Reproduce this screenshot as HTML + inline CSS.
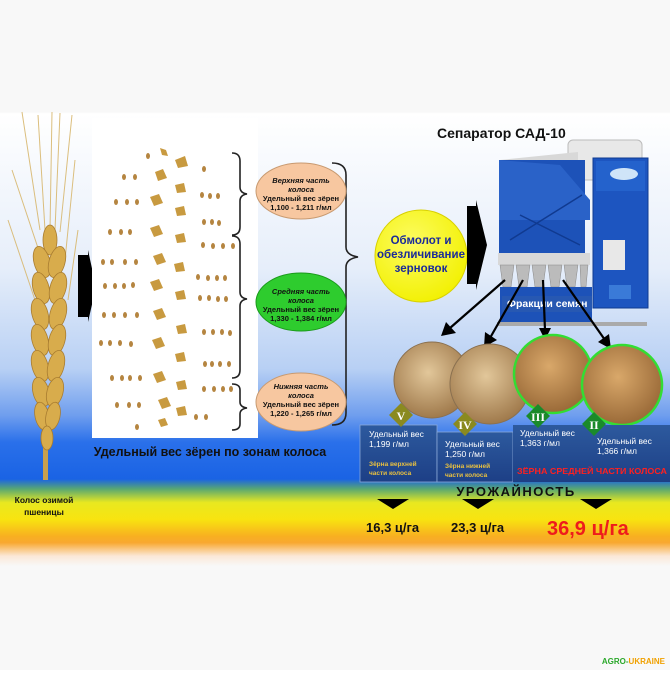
<!DOCTYPE html>
<html><head><meta charset="utf-8"><style>
html,body{margin:0;padding:0}
body{width:670px;height:670px;overflow:hidden;font-family:"Liberation Sans",sans-serif;}
</style></head><body>
<svg width="670" height="670" viewBox="0 0 670 670" xmlns="http://www.w3.org/2000/svg" font-family="Liberation Sans, sans-serif">
<defs>
<linearGradient id="bg" x1="0" y1="0" x2="0" y2="1">
<stop offset="0" stop-color="#f8f8f8"/>
<stop offset="0.167" stop-color="#f8f8f8"/>
<stop offset="0.17" stop-color="#ffffff"/>
<stop offset="0.4" stop-color="#e6eefa"/>
<stop offset="0.55" stop-color="#b8d0f4"/>
<stop offset="0.62" stop-color="#6f9eee"/>
<stop offset="0.66" stop-color="#2a70ea"/>
<stop offset="0.715" stop-color="#1a63e4"/>
<stop offset="0.73" stop-color="#5aa870"/>
<stop offset="0.75" stop-color="#e8e820"/>
<stop offset="0.775" stop-color="#f8e410"/>
<stop offset="0.8" stop-color="#f8b020"/>
<stop offset="0.81" stop-color="#f8a830"/>
<stop offset="0.83" stop-color="#fbe8d8"/>
<stop offset="0.845" stop-color="#f8f8f8"/>
<stop offset="1" stop-color="#f8f8f8"/>
</linearGradient>
<radialGradient id="g1" cx="0.45" cy="0.4" r="0.6"><stop offset="0" stop-color="#e2c79a"/><stop offset="1" stop-color="#a07a4c"/></radialGradient>
<radialGradient id="g2" cx="0.45" cy="0.4" r="0.6"><stop offset="0" stop-color="#d9a86a"/><stop offset="1" stop-color="#9a6a38"/></radialGradient>
<linearGradient id="box" x1="0" y1="0" x2="0" y2="1"><stop offset="0" stop-color="#2d5a9e"/><stop offset="1" stop-color="#1d3f86"/></linearGradient>
<radialGradient id="yl" cx="0.4" cy="0.35" r="0.7"><stop offset="0" stop-color="#fcfc60"/><stop offset="1" stop-color="#f2f000"/></radialGradient>
</defs>
<rect width="670" height="670" fill="url(#bg)"/>

<!-- wheat ear -->
<g stroke="#d8b870" stroke-width="1" fill="none" opacity="0.9">
<path d="M40 230 L22 112"/><path d="M45 230 L38 115"/><path d="M50 230 L52 112"/><path d="M55 230 L60 113"/><path d="M60 232 L72 115"/><path d="M42 260 L12 170"/><path d="M65 260 L75 160"/><path d="M35 300 L8 220"/><path d="M68 300 L78 230"/>
</g>
<rect x="43" y="440" width="5" height="40" fill="#c8a050"/>
<g fill="#d8ac4c" stroke="#a87c30" stroke-width="0.8">
<ellipse cx="50" cy="240" rx="7" ry="15"/>
<ellipse cx="42" cy="262" rx="8" ry="16" transform="rotate(-15 42 262)"/><ellipse cx="57" cy="262" rx="8" ry="16" transform="rotate(15 57 262)"/>
<ellipse cx="41" cy="288" rx="8" ry="16" transform="rotate(-15 41 288)"/><ellipse cx="58" cy="288" rx="8" ry="16" transform="rotate(15 58 288)"/>
<ellipse cx="40" cy="314" rx="8" ry="16" transform="rotate(-15 40 314)"/><ellipse cx="58" cy="314" rx="8" ry="16" transform="rotate(15 58 314)"/>
<ellipse cx="40" cy="340" rx="8" ry="16" transform="rotate(-15 40 340)"/><ellipse cx="57" cy="340" rx="8" ry="16" transform="rotate(15 57 340)"/>
<ellipse cx="40" cy="366" rx="8" ry="16" transform="rotate(-15 40 366)"/><ellipse cx="56" cy="366" rx="8" ry="16" transform="rotate(15 56 366)"/>
<ellipse cx="41" cy="392" rx="8" ry="15" transform="rotate(-15 41 392)"/><ellipse cx="55" cy="392" rx="8" ry="15" transform="rotate(15 55 392)"/>
<ellipse cx="42" cy="416" rx="7" ry="14" transform="rotate(-12 42 416)"/><ellipse cx="53" cy="416" rx="7" ry="14" transform="rotate(12 53 416)"/>
<ellipse cx="47" cy="438" rx="6" ry="12"/>
</g>

<!-- left arrow -->
<path d="M78 255 L88 255 L88 250 L96 287 L88 322 L88 317 L78 317 Z" fill="#000"/>

<!-- grain panel -->
<rect x="92" y="118" width="166" height="320" fill="#ffffff"/>
<g fill="#b58540">
<ellipse cx="148" cy="156" rx="2" ry="3"/><ellipse cx="204" cy="169" rx="2" ry="3"/>
<ellipse cx="124" cy="177" rx="2" ry="3"/><ellipse cx="135" cy="177" rx="2" ry="3"/>
<ellipse cx="116" cy="202" rx="2" ry="3"/><ellipse cx="127" cy="202" rx="2" ry="3"/><ellipse cx="137" cy="202" rx="2" ry="3"/>
<ellipse cx="202" cy="195" rx="2" ry="3"/><ellipse cx="210" cy="196" rx="2" ry="3"/><ellipse cx="218" cy="196" rx="2" ry="3"/>
<ellipse cx="110" cy="232" rx="2" ry="3"/><ellipse cx="121" cy="232" rx="2" ry="3"/><ellipse cx="130" cy="232" rx="2" ry="3"/>
<ellipse cx="204" cy="222" rx="2" ry="3"/><ellipse cx="212" cy="222" rx="2" ry="3"/><ellipse cx="219" cy="223" rx="2" ry="3"/>
<ellipse cx="203" cy="245" rx="2" ry="3"/><ellipse cx="213" cy="246" rx="2" ry="3"/><ellipse cx="223" cy="246" rx="2" ry="3"/><ellipse cx="233" cy="246" rx="2" ry="3"/>
<ellipse cx="103" cy="262" rx="2" ry="3"/><ellipse cx="112" cy="262" rx="2" ry="3"/><ellipse cx="125" cy="262" rx="2" ry="3"/><ellipse cx="136" cy="262" rx="2" ry="3"/>
<ellipse cx="198" cy="277" rx="2" ry="3"/><ellipse cx="208" cy="278" rx="2" ry="3"/><ellipse cx="217" cy="278" rx="2" ry="3"/><ellipse cx="225" cy="278" rx="2" ry="3"/>
<ellipse cx="105" cy="286" rx="2" ry="3"/><ellipse cx="115" cy="286" rx="2" ry="3"/><ellipse cx="124" cy="286" rx="2" ry="3"/><ellipse cx="133" cy="285" rx="2" ry="3"/>
<ellipse cx="200" cy="298" rx="2" ry="3"/><ellipse cx="209" cy="298" rx="2" ry="3"/><ellipse cx="218" cy="299" rx="2" ry="3"/><ellipse cx="226" cy="299" rx="2" ry="3"/>
<ellipse cx="104" cy="315" rx="2" ry="3"/><ellipse cx="114" cy="315" rx="2" ry="3"/><ellipse cx="125" cy="315" rx="2" ry="3"/><ellipse cx="137" cy="315" rx="2" ry="3"/>
<ellipse cx="204" cy="332" rx="2" ry="3"/><ellipse cx="213" cy="332" rx="2" ry="3"/><ellipse cx="222" cy="332" rx="2" ry="3"/><ellipse cx="230" cy="333" rx="2" ry="3"/>
<ellipse cx="101" cy="343" rx="2" ry="3"/><ellipse cx="110" cy="343" rx="2" ry="3"/><ellipse cx="120" cy="343" rx="2" ry="3"/><ellipse cx="131" cy="344" rx="2" ry="3"/>
<ellipse cx="205" cy="364" rx="2" ry="3"/><ellipse cx="212" cy="364" rx="2" ry="3"/><ellipse cx="220" cy="364" rx="2" ry="3"/><ellipse cx="229" cy="364" rx="2" ry="3"/>
<ellipse cx="112" cy="378" rx="2" ry="3"/><ellipse cx="122" cy="378" rx="2" ry="3"/><ellipse cx="130" cy="378" rx="2" ry="3"/><ellipse cx="140" cy="378" rx="2" ry="3"/>
<ellipse cx="204" cy="389" rx="2" ry="3"/><ellipse cx="214" cy="389" rx="2" ry="3"/><ellipse cx="223" cy="389" rx="2" ry="3"/><ellipse cx="231" cy="389" rx="2" ry="3"/>
<ellipse cx="117" cy="405" rx="2" ry="3"/><ellipse cx="129" cy="405" rx="2" ry="3"/><ellipse cx="139" cy="405" rx="2" ry="3"/>
<ellipse cx="196" cy="417" rx="2" ry="3"/><ellipse cx="206" cy="417" rx="2" ry="3"/>
<ellipse cx="137" cy="427" rx="2" ry="3"/>
</g>
<g fill="#c89a40">
<path d="M160 148 l6 2 l2 6 l-6 -1 z"/><path d="M175 160 l10 -4 l3 10 l-10 2 z"/>
<path d="M155 172 l8 -3 l4 9 l-9 3 z"/><path d="M175 185 l9 -2 l2 9 l-9 1 z"/>
<path d="M150 197 l9 -3 l4 9 l-9 3 z"/><path d="M175 208 l9 -2 l2 9 l-9 1 z"/>
<path d="M150 228 l9 -3 l4 9 l-9 3 z"/><path d="M175 235 l9 -2 l2 9 l-9 1 z"/>
<path d="M153 256 l9 -3 l4 9 l-9 3 z"/><path d="M174 264 l9 -2 l2 9 l-9 1 z"/>
<path d="M150 282 l9 -3 l4 9 l-9 3 z"/><path d="M175 292 l9 -2 l2 9 l-9 1 z"/>
<path d="M153 311 l9 -3 l4 9 l-9 3 z"/><path d="M176 326 l9 -2 l2 9 l-9 1 z"/>
<path d="M152 340 l9 -3 l4 9 l-9 3 z"/><path d="M175 354 l9 -2 l2 9 l-9 1 z"/>
<path d="M153 374 l9 -3 l4 9 l-9 3 z"/><path d="M176 382 l9 -2 l2 9 l-9 1 z"/>
<path d="M158 400 l9 -3 l4 9 l-9 3 z"/><path d="M176 408 l9 -2 l2 9 l-9 1 z"/>
<path d="M158 420 l7 -2 l3 7 l-7 2 z"/>
</g>

<!-- braces -->
<g fill="none" stroke="#222" stroke-width="1.6">
<path d="M232 153 q8 0 8 8 v26 q0 6 7 7 q-7 1 -7 7 v26 q0 8 -8 8"/>
<path d="M232 236 q8 0 8 8 v48 q0 6 7 7 q-7 1 -7 7 v64 q0 8 -8 8"/>
<path d="M232 384 q8 0 8 6 v12 q0 5 7 6 q-7 1 -7 6 v10 q0 6 -8 6"/>
<path d="M332 163 q14 0 14 12 v72 q0 8 12 10 q-12 2 -12 10 v146 q0 12 -14 12"/>
</g>

<!-- ellipses -->
<g stroke="#c89a70" stroke-width="1">
<ellipse cx="301" cy="191" rx="45" ry="28" fill="#f7c7a0"/>
<ellipse cx="301" cy="302" rx="45" ry="29" fill="#2ecc2e" stroke="#1a9a1a"/>
<ellipse cx="301" cy="402" rx="45" ry="29" fill="#f7c7a0"/>
</g>
<g font-size="7.5" font-weight="bold" text-anchor="middle" fill="#111">
<text x="301" y="183" font-style="italic">Верхняя часть</text><text x="301" y="192" font-style="italic">колоса</text><text x="301" y="201">Удельный вес зёрен</text><text x="301" y="210">1,100 - 1,211 г/мл</text>
<text x="301" y="294" font-style="italic">Средняя часть</text><text x="301" y="303" font-style="italic">колоса</text><text x="301" y="312">Удельный вес зёрен</text><text x="301" y="321">1,330 - 1,384 г/мл</text>
<text x="301" y="389" font-style="italic">Нижняя часть</text><text x="301" y="398" font-style="italic">колоса</text><text x="301" y="407">Удельный вес зёрен</text><text x="301" y="416">1,220 - 1,265 г/мл</text>
</g>

<!-- yellow circle -->
<circle cx="421" cy="256" r="46" fill="url(#yl)" stroke="#d8d000"/>
<g font-size="11.5" font-weight="bold" fill="#1a2a9a" text-anchor="middle">
<text x="421" y="244">Обмолот и</text><text x="421" y="258">обезличивание</text><text x="421" y="272">зерновок</text>
</g>
<path d="M467 206 L476 206 L476 200 L487 245 L476 290 L476 284 L467 284 Z" fill="#000"/>

<text x="437" y="138" font-size="14" font-weight="bold" fill="#111">Сепаратор САД-10</text>

<!-- machine -->
<rect x="568" y="140" width="74" height="40" rx="5" fill="#e8e8e8" stroke="#bbb"/>
<path d="M500 160 L578 152 L578 175 L500 170 Z" fill="#d8d8d8"/>
<rect x="499" y="160" width="86" height="100" fill="#1d52b8"/>
<path d="M499 160 L560 165 L590 200 L590 220 L499 220 Z" fill="#2a62c8"/>
<path d="M510 240 L582 195 M520 215 L580 245" stroke="#103a90" stroke-width="1.5"/>
<rect x="593" y="158" width="55" height="150" fill="#1d55c0" stroke="#0f3a90"/>
<rect x="596" y="161" width="49" height="30" fill="#2462cc"/>
<ellipse cx="624" cy="174" rx="14" ry="6" fill="#cfe4f8"/>
<rect x="603" y="240" width="22" height="30" fill="#e8e8e8"/>
<rect x="609" y="285" width="22" height="14" fill="#3a7ad8"/>
<rect x="498" y="253" width="92" height="12" fill="#d8d8d8"/>
<g fill="#bbb" stroke="#888" stroke-width="0.5">
<path d="M500 265 h14 l-3 22 h-8 z"/><path d="M516 265 h14 l-3 22 h-8 z"/><path d="M532 265 h14 l-3 22 h-8 z"/><path d="M548 265 h14 l-3 22 h-8 z"/><path d="M564 265 h14 l-3 22 h-8 z"/><path d="M580 265 h8 l-2 22 h-5 z"/>
</g>
<rect x="500" y="287" width="92" height="37" fill="#1d52b8"/>
<rect x="502" y="296" width="90" height="16" fill="#2a5ab0" opacity="0.8"/>
<text x="507" y="307" font-size="10.5" font-weight="bold" fill="#fff">Фракции семян</text>
<rect x="497" y="322" width="150" height="4" fill="#aaa"/>

<!-- diagonal arrows -->
<g stroke="#000" stroke-width="2.2">
<line x1="505" y1="280" x2="450" y2="328"/><line x1="523" y1="280" x2="490" y2="338"/><line x1="543" y1="280" x2="545" y2="330"/><line x1="563" y1="280" x2="605" y2="340"/>
</g>
<g fill="#000">
<path d="M441 336 l5 -14 l10 11 z"/><path d="M484 347 l1 -15 l12 8 z"/><path d="M545 340 l-6 -12 h12 z"/><path d="M611 349 l-13 -7 l11 -8 z"/>
</g>

<!-- grain circles -->
<circle cx="432" cy="380" r="38" fill="url(#g1)" stroke="#8a7050"/>
<circle cx="490" cy="384" r="40" fill="url(#g1)" stroke="#8a7050"/>
<circle cx="553" cy="374" r="39" fill="url(#g2)" stroke="#33dd33" stroke-width="2.5"/>
<circle cx="622" cy="385" r="40" fill="url(#g2)" stroke="#33dd33" stroke-width="2.5"/>

<!-- boxes -->
<rect x="360" y="425" width="77" height="57" fill="url(#box)" stroke="#8aa8d8" stroke-width="0.8"/>
<rect x="437" y="432" width="76" height="50" fill="url(#box)" stroke="#8aa8d8" stroke-width="0.8"/>
<rect x="513" y="425" width="157" height="57" fill="url(#box)"/>
<g font-size="8.5" fill="#fff">
<text x="369" y="437">Удельный вес</text><text x="369" y="447">1,199 г/мл</text>
<text x="445" y="447">Удельный вес</text><text x="445" y="457">1,250 г/мл</text>
<text x="520" y="436">Удельный вес</text><text x="520" y="446">1,363 г/мл</text>
<text x="597" y="444">Удельный вес</text><text x="597" y="454">1,366 г/мл</text>
</g>
<g font-size="6.5" fill="#e8c040" font-weight="bold">
<text x="369" y="466">Зёрна верхней</text><text x="369" y="475">части колоса</text>
<text x="445" y="468">Зёрна нижней</text><text x="445" y="477">части колоса</text>
</g>
<text x="517" y="474" font-size="8.5" font-weight="bold" fill="#ff2020" textLength="150" lengthAdjust="spacingAndGlyphs">ЗЁРНА СРЕДНЕЙ ЧАСТИ КОЛОСА</text>

<!-- diamonds -->
<g>
<path d="M401 403 l12 12 l-12 12 l-12 -12 z" fill="#8a8a20"/>
<path d="M465 412 l12 12 l-12 12 l-12 -12 z" fill="#8a8a20"/>
<path d="M538 404 l12 12 l-12 12 l-12 -12 z" fill="#1a8a2a"/>
<path d="M594 412 l12 12 l-12 12 l-12 -12 z" fill="#1a8a2a"/>
</g>
<g font-family="Liberation Serif, serif" font-weight="bold" fill="#fff" text-anchor="middle" font-size="12">
<text x="401" y="420">V</text><text x="465" y="429">IV</text><text x="538" y="421">III</text><text x="594" y="429">II</text>
</g>

<!-- bottom texts -->
<text x="210" y="456" font-size="12.5" font-weight="bold" fill="#111" text-anchor="middle">Удельный вес зёрен по зонам колоса</text>
<text x="44" y="503" font-size="8.5" font-weight="bold" fill="#111" text-anchor="middle">Колос озимой</text>
<text x="44" y="515" font-size="8.5" font-weight="bold" fill="#111" text-anchor="middle">пшеницы</text>
<text x="516" y="496" font-size="13" font-weight="bold" fill="#111" text-anchor="middle" letter-spacing="1.5">УРОЖАЙНОСТЬ</text>
<g fill="#000">
<path d="M377 499 h32 l-16 10 z"/><path d="M462 499 h32 l-16 10 z"/><path d="M580 499 h32 l-16 10 z"/>
</g>
<text x="366" y="532" font-size="13" font-weight="bold" fill="#111">16,3 ц/га</text>
<text x="451" y="532" font-size="13" font-weight="bold" fill="#111">23,3 ц/га</text>
<text x="547" y="535" font-size="20" font-weight="bold" fill="#ee1c1c">36,9 ц/га</text>

<text x="665" y="664" font-size="8" font-weight="bold" fill="#2aa82a" text-anchor="end">AGRO-<tspan fill="#f0a000">UKRAINE</tspan></text>
</svg>
</body></html>
